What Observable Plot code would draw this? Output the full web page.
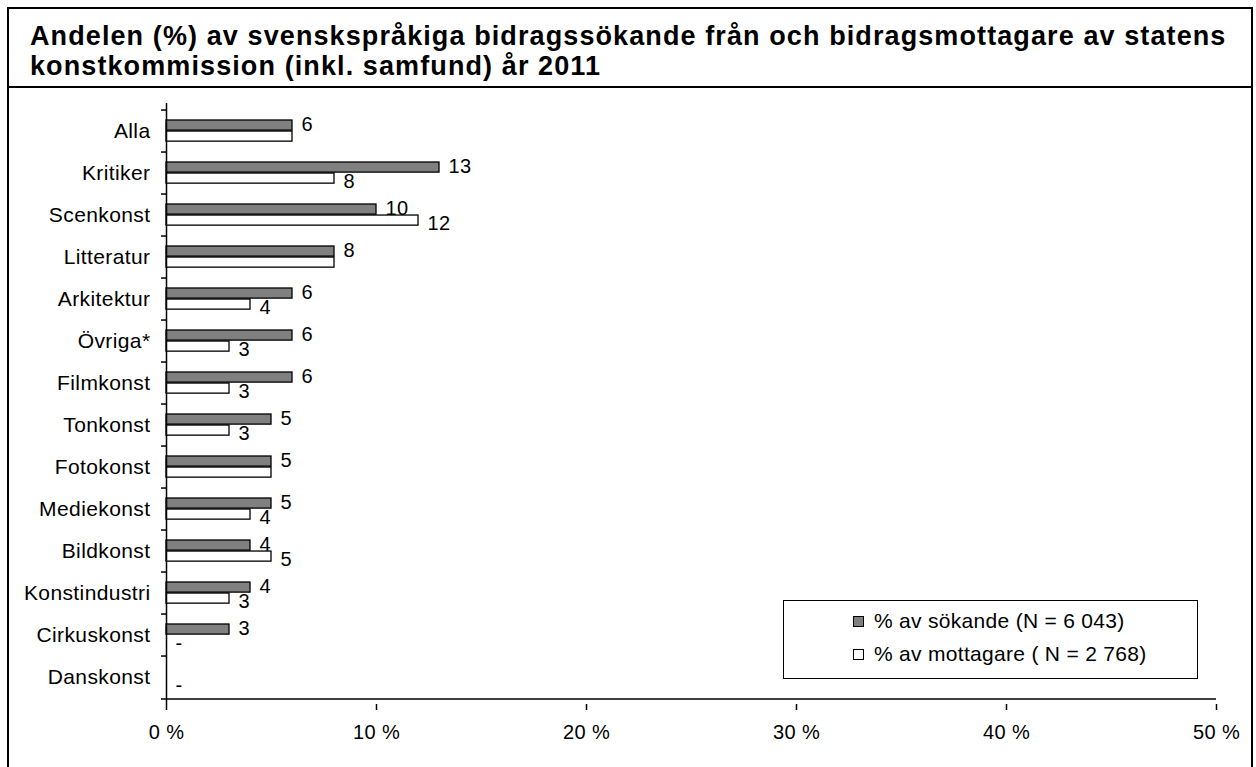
<!DOCTYPE html>
<html>
<head>
<meta charset="utf-8">
<script src="https://cdn.jsdelivr.net/npm/d3@7"></script>
<script src="https://cdn.jsdelivr.net/npm/@observablehq/plot@0.6"></script>
<style>
  html, body { margin: 0; padding: 0; background: #fff; width: 1256px; height: 767px; overflow: hidden; }
  body { font-family: "Liberation Sans", Arial, sans-serif; color: #000; position: relative; }
  #frame { position: absolute; left: 7px; top: 7px; width: 1246px; height: 800px; border: 2px solid #000; box-sizing: border-box; }
  #sep { position: absolute; left: 7px; top: 86px; width: 1246px; height: 0; border-top: 2px solid #000; }
  #title { position: absolute; left: 30px; top: 21px; font-weight: bold; font-size: 27px; line-height: 30px; letter-spacing: 1.1px; white-space: nowrap; }
  #chart { position: absolute; left: 0; top: 88px; }
  #chart svg text { letter-spacing: 0.4px; }
  #legend { position: absolute; left: 783px; top: 600px; width: 415px; height: 79px; border: 1.5px solid #000; box-sizing: border-box; background: #fff; font-size: 21px; letter-spacing: 0.3px; }
  .row { position: absolute; left: 69px; display: flex; align-items: center; white-space: nowrap; }
  .sw { width: 9px; height: 9px; border: 1px solid #000; margin-right: 10px; }
</style>
</head>
<body>
<div id="frame"></div>
<div id="sep"></div>
<div id="title">Andelen (%) av svenskspråkiga bidragssökande från och bidragsmottagare av statens<br>konstkommission (inkl. samfund) år 2011</div>
<div id="chart"></div>
<div id="legend">
  <div class="row" style="top:8px"><div class="sw" style="background:#808080"></div><span>% av sökande (N = 6 043)</span></div>
  <div class="row" style="top:41px"><div class="sw" style="background:#fff"></div><span>% av mottagare ( N = 2 768)</span></div>
</div>
<script>
const categories = ["Alla","Kritiker","Scenkonst","Litteratur","Arkitektur","Övriga*","Filmkonst","Tonkonst","Fotokonst","Mediekonst","Bildkonst","Konstindustri","Cirkuskonst","Danskonst"];
const sokande   = [6, 13, 10, 8, 6, 6, 6, 5, 5, 5, 4, 4, 3, 0];
const mottagare = [6, 8, 12, 8, 4, 3, 3, 3, 5, 4, 5, 3, 0, 0];
const sokandeLabels   = ["6","13","10","8","6","6","6","5","5","5","4","4","3",""];
const mottagareLabels = ["","8","12","","4","3","3","3","","4","5","3","-","-"];
const xTicks = [0, 10, 20, 30, 40, 50];

const W = 1256, H = 679, mL = 166, mR = 40, mT = 15, mB = 63;
const band = (H - mT - mB) / categories.length;
const pxPerUnit = (W - mL - mR) / 50;
const tickU = 5 / pxPerUnit;

const sData = categories.map((c, i) => ({cat: c, v: sokande[i], label: sokandeLabels[i]}));
const mData = categories.map((c, i) => ({cat: c, v: mottagare[i], label: mottagareLabels[i]}));

const font = '"Liberation Sans", Arial, sans-serif';
const chart = Plot.plot({
  width: W, height: H,
  marginLeft: mL, marginRight: mR, marginTop: mT, marginBottom: mB,
  style: {background: "transparent", color: "#000", fontFamily: font, fontSize: "20px", overflow: "visible"},
  x: {domain: [0, 50]},
  y: {domain: categories, padding: 0},
  marks: [
    Plot.barX(sData, {x: "v", y: "cat", fill: "#808080", stroke: "#000", strokeWidth: 1.3, insetTop: band * 0.233, insetBottom: band * 0.51}),
    Plot.barX(mData, {x: "v", y: "cat", fill: "#fff", stroke: "#000", strokeWidth: 1.3, insetTop: band * 0.49, insetBottom: band * 0.253}),
    Plot.text(sData, {x: "v", y: "cat", text: "label", textAnchor: "start", dx: 9, dy: -7, fontSize: 20, fill: "#000"}),
    Plot.text(mData, {x: "v", y: "cat", text: "label", textAnchor: "start", dx: 9, dy: 8, fontSize: 20, fill: "#000"}),
    Plot.ruleX([0], {stroke: "#000", strokeWidth: 1.5}),
    Plot.ruleY(categories, {y: d => d, dy: -band / 2, x1: -tickU, x2: 0, stroke: "#000", strokeWidth: 1.5}),
    Plot.ruleY([categories[categories.length - 1]], {y: d => d, dy: band / 2, x1: -tickU, x2: 50, stroke: "#000", strokeWidth: 1.5}),
    Plot.axisY({tickSize: 0, tickPadding: 16, fontSize: 21, label: null}),
    Plot.axisX({ticks: xTicks, tickFormat: d => `${d} %`, tickSize: 6, tickPadding: 14, fontSize: 20, strokeWidth: 1.5, label: null})
  ]
});
document.getElementById("chart").appendChild(chart);
</script>
</body>
</html>
